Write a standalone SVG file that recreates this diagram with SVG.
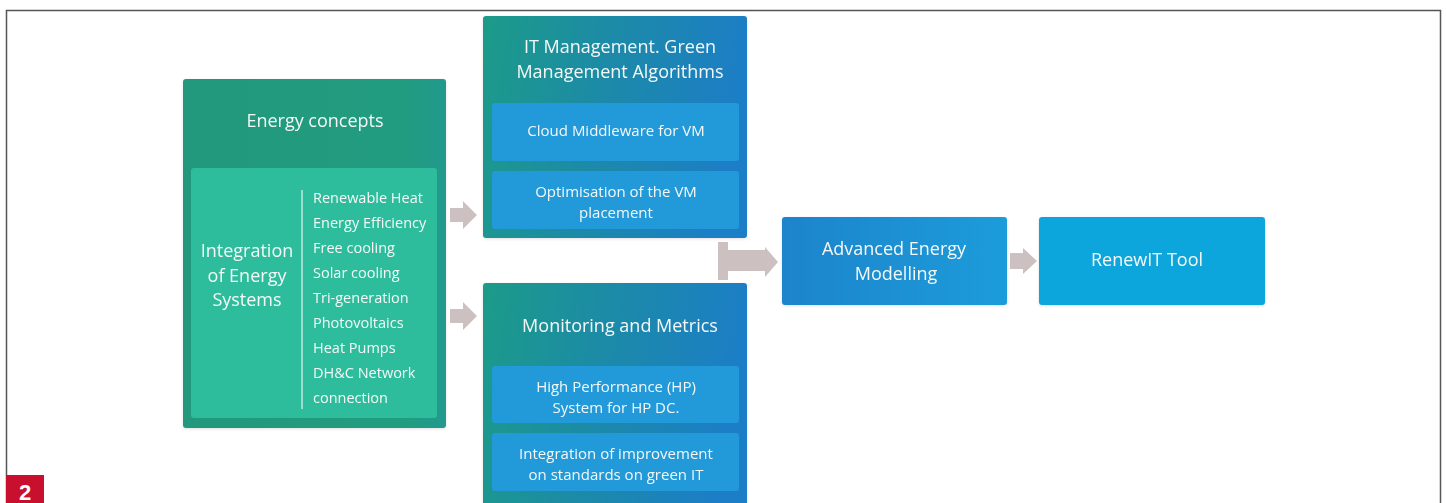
<svg xmlns="http://www.w3.org/2000/svg" width="1446" height="503" viewBox="0 0 1446 503">
  <style>
    text { font-family: "Open Sans", "Noto Sans", "Liberation Sans", sans-serif; fill: #f4f8f6; font-weight: 500; }
    .t17 { font-size: 18px; text-anchor: middle; }
    .t18 { font-size: 18px; text-anchor: middle; }
    .t14 { font-size: 15px; text-anchor: middle; }
    .li { font-size: 14.5px; }
    .arrow { fill: #cdc0c0; }
  </style>
  <defs>
    <linearGradient id="gTeal" x1="0" y1="0" x2="1" y2="0">
      <stop offset="0" stop-color="#20987c"/>
      <stop offset="0.85" stop-color="#229c80"/>
      <stop offset="1" stop-color="#22998e"/>
    </linearGradient>
    <linearGradient id="gTealBlue" x1="0" y1="0" x2="1" y2="0.15">
      <stop offset="0" stop-color="#1f9b88"/>
      <stop offset="0.5" stop-color="#1f8aa8"/>
      <stop offset="1" stop-color="#1f7ec6"/>
    </linearGradient>
    <linearGradient id="gBlue" x1="0" y1="0" x2="1" y2="0">
      <stop offset="0" stop-color="#1e84cb"/>
      <stop offset="1" stop-color="#1a9cda"/>
    </linearGradient>
    <filter id="shadow" x="-5%" y="-5%" width="110%" height="115%">
      <feDropShadow dx="0" dy="1" stdDeviation="1.5" flood-color="#000" flood-opacity="0.12"/>
    </filter>
  </defs>

  <!-- frame -->
  <rect x="0" y="0" width="1446" height="503" fill="#ffffff"/>
  <path d="M6.5 503 V10.5 H1440.5 V503" fill="none" stroke="#555" stroke-width="1.5"/>
  <g id="figure-number">
    <rect x="6" y="475" width="38" height="28" fill="#c8102e"/>
    <text x="25" y="500" style="font-family:'Liberation Sans',Arial,sans-serif;font-weight:bold;font-size:22px;text-anchor:middle;fill:#fff">2</text>
  </g>

  <!-- connectors -->
  <g id="connectors">
    <polygon class="arrow" points="450,208 463,208 463,201 477,215 463,229 463,222 450,222"/>
    <polygon class="arrow" points="450,309 463,309 463,302 477,316 463,330 463,323 450,323"/>
    <polygon class="arrow" points="718,242 728,242 728,250 765,250 765,247 778,262 765,277 765,271 728,271 728,280 718,280"/>
    <polygon class="arrow" points="1010,253 1023,253 1023,248 1037,261 1023,274 1023,269 1010,269"/>
  </g>

  <!-- Energy concepts -->
  <g id="energy-concepts" filter="url(#shadow)">
    <rect x="183" y="79" width="263" height="349" rx="3" fill="url(#gTeal)"/>
    <text class="t17" x="315" y="127">Energy concepts</text>
    <rect x="191" y="168" width="246" height="250" rx="3" fill="#2ebd9c"/>
    <text class="t18" x="247" y="257">Integration</text>
    <text class="t18" x="247" y="282">of Energy</text>
    <text class="t18" x="247" y="306">Systems</text>
    <line x1="302" y1="190" x2="302" y2="409" stroke="#e8f6f2" stroke-width="1.2"/>
    <text class="li" x="313" y="203">Renewable Heat</text>
    <text class="li" x="313" y="228">Energy Efficiency</text>
    <text class="li" x="313" y="253">Free cooling</text>
    <text class="li" x="313" y="278">Solar cooling</text>
    <text class="li" x="313" y="303">Tri-generation</text>
    <text class="li" x="313" y="328">Photovoltaics</text>
    <text class="li" x="313" y="353">Heat Pumps</text>
    <text class="li" x="313" y="378">DH&amp;C Network</text>
    <text class="li" x="313" y="403">connection</text>
  </g>

  <!-- IT Management -->
  <g id="it-management" filter="url(#shadow)">
    <rect x="483" y="16" width="264" height="222" rx="3" fill="url(#gTealBlue)"/>
    <text class="t17" x="620" y="53">IT Management. Green</text>
    <text class="t17" x="620" y="78">Management Algorithms</text>
    <rect x="492" y="103" width="247" height="58" rx="3" fill="#2399d9"/>
    <text class="t14" x="616" y="136">Cloud Middleware for VM</text>
    <rect x="492" y="171" width="247" height="58" rx="3" fill="#2399d9"/>
    <text class="t14" x="616" y="197">Optimisation of the VM</text>
    <text class="t14" x="616" y="218">placement</text>
  </g>

  <!-- Monitoring and Metrics -->
  <g id="monitoring" filter="url(#shadow)">
    <rect x="483" y="283" width="264" height="225" rx="3" fill="url(#gTealBlue)"/>
    <text class="t17" x="620" y="332">Monitoring and Metrics</text>
    <rect x="492" y="366" width="247" height="57" rx="3" fill="#2399d9"/>
    <text class="t14" x="616" y="392">High Performance (HP)</text>
    <text class="t14" x="616" y="413">System for HP DC.</text>
    <rect x="492" y="433" width="247" height="58" rx="3" fill="#2399d9"/>
    <text class="t14" x="616" y="459">Integration of improvement</text>
    <text class="t14" x="616" y="480">on standards on green IT</text>
  </g>

  <!-- Advanced Energy Modelling -->
  <g id="advanced-energy-modelling" filter="url(#shadow)">
    <rect x="782" y="217" width="225" height="88" rx="3" fill="url(#gBlue)"/>
    <text class="t17" x="894" y="255">Advanced Energy</text>
    <text class="t17" x="896" y="280">Modelling</text>
  </g>

  <!-- RenewIT Tool -->
  <g id="renewit-tool" filter="url(#shadow)">
    <rect x="1039" y="217" width="226" height="88" rx="3" fill="#10a6dc"/>
    <text class="t17" x="1147" y="266">RenewIT Tool</text>
  </g>
</svg>
